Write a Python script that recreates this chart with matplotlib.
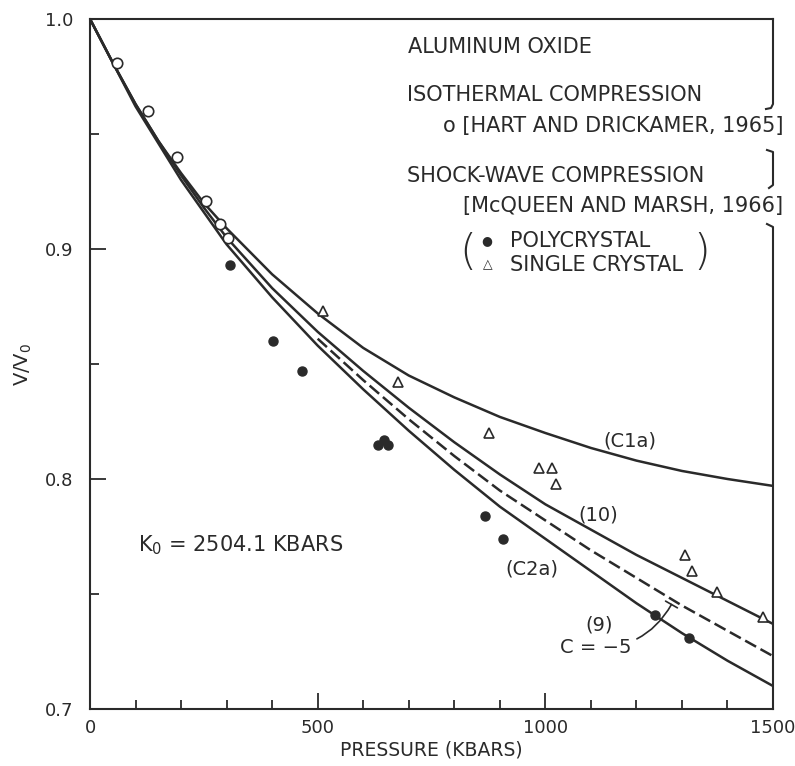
import numpy as np
import matplotlib.pyplot as plt
from matplotlib.lines import Line2D

# curves: V/V0 against pressure (kbar)
p_curve = [0, 50, 100, 150, 200, 250, 300, 400, 500, 600, 700, 800, 900, 1000,
           1100, 1200, 1300, 1400, 1500]
v_c1a = [1.000, 0.981, 0.963, 0.947, 0.933, 0.920, 0.909, 0.889, 0.872, 0.857,
         0.845, 0.8355, 0.827, 0.820, 0.8135, 0.808, 0.8035, 0.800, 0.797]
v_eq10 = [1.000, 0.981, 0.963, 0.947, 0.932, 0.918, 0.905, 0.883, 0.864, 0.847,
          0.831, 0.816, 0.802, 0.789, 0.778, 0.767, 0.757, 0.747, 0.737]
v_c2a = [1.000, 0.981, 0.962, 0.946, 0.930, 0.916, 0.902, 0.879, 0.858, 0.839,
         0.821, 0.804, 0.788, 0.774, 0.760, 0.746, 0.733, 0.721, 0.710]
p_eq9 = [500, 600, 700, 800, 900, 1000, 1100, 1200, 1300, 1400, 1500]
v_eq9 = [0.861, 0.843, 0.826, 0.810, 0.795, 0.782, 0.769, 0.757, 0.745, 0.734, 0.723]

# isothermal data (Hart and Drickamer, 1965)
p_hart = [59, 127, 190, 254, 286, 302]
v_hart = [0.981, 0.960, 0.940, 0.921, 0.911, 0.905]

# shock-wave data (McQueen and Marsh, 1966)
p_poly = [308, 401, 465, 633, 646, 655, 868, 908, 1241, 1315]
v_poly = [0.893, 0.860, 0.847, 0.815, 0.817, 0.815, 0.784, 0.774, 0.741, 0.731]
p_single = [511, 676, 876, 985, 1015, 1023, 1307, 1322, 1378, 1479]
v_single = [0.873, 0.842, 0.820, 0.805, 0.805, 0.798, 0.767, 0.760, 0.751, 0.740]

x_major = [0, 500, 1000, 1500]
x_major_labels = ["0", "500", "1000", "1500"]
y_major = [0.7, 0.8, 0.9, 1.0]
y_major_labels = ["0.7", "0.8", "0.9", "1.0"]

plt.rcParams["font.family"] = "DejaVu Sans"
INK = "#2a2a2a"

fig = plt.figure(figsize=(7.95, 7.66), dpi=100)
ax = fig.add_axes([90 / 795, 57 / 766, 683 / 795, 690 / 766])

lw = 1.8
ax.plot(p_curve, v_c1a, color=INK, lw=lw)
ax.plot(p_curve, v_eq10, color=INK, lw=lw)
ax.plot(p_curve, v_c2a, color=INK, lw=lw)
ax.plot(p_eq9, v_eq9, color=INK, lw=lw, linestyle=(0, (5, 2)))

ax.plot(p_hart, v_hart, "o", ms=7.5, mfc="white", mec=INK, mew=1.2, zorder=5)
ax.plot(p_poly, v_poly, "o", ms=6.5, mfc=INK, mec=INK, zorder=5)
ax.plot(p_single, v_single, "^", ms=7, mfc="white", mec=INK, mew=1.2, zorder=5)

ax.set_xlim(0, 1500)
ax.set_ylim(0.7, 1.0)
ax.set_xticks(x_major)
ax.set_xticklabels(x_major_labels)
ax.set_xticks(np.arange(0, 1501, 100), minor=True)
ax.set_yticks(y_major)
ax.set_yticklabels(y_major_labels)
ax.set_yticks([0.75, 0.85, 0.95], minor=True)
ax.tick_params(which="both", direction="in", top=False, right=False,
               width=1.3, color=INK, labelcolor=INK, labelsize=13)
ax.tick_params(which="major", length=11.5)
ax.tick_params(which="minor", length=6.5)
ax.tick_params(axis="y", pad=12)
ax.tick_params(axis="x", pad=7)

for side in ["left", "top", "bottom"]:
    ax.spines[side].set_linewidth(1.5)
    ax.spines[side].set_color(INK)
ax.spines["right"].set_visible(False)

# broken right frame with the little brace hooks
def px(x, y):
    return (x - 90) / 683, (709 - y) / 690

for seg in ([(773, 19), (773, 104), (771, 108), (766, 109)],
            [(767, 150), (773, 152), (773, 185), (769, 188)],
            [(767, 224), (773, 227), (773, 709)]):
    xs, ys = zip(*[px(*p) for p in seg])
    ax.add_line(Line2D(xs, ys, transform=ax.transAxes, color=INK, lw=1.5,
                       clip_on=False))

ax.set_xlabel("PRESSURE (KBARS)", fontsize=13.5, color=INK, labelpad=3)
ax.set_ylabel("V/V$_0$", fontsize=14, color=INK, labelpad=8)

fs = 15
ax.text(698, 0.9878, "ALUMINUM OXIDE", fontsize=fs, color=INK, va="center")
ax.text(696, 0.967, "ISOTHERMAL COMPRESSION", fontsize=fs, color=INK, va="center")
ax.text(775, 0.9535, "o [HART AND DRICKAMER, 1965]", fontsize=fs, color=INK,
        va="center", clip_on=False)
ax.text(696, 0.9317, "SHOCK-WAVE COMPRESSION", fontsize=fs, color=INK, va="center")
ax.text(819, 0.9187, "[McQUEEN AND MARSH, 1966]", fontsize=fs, color=INK,
        va="center", clip_on=False)
ax.text(830, 0.8985, "(", fontsize=31, color=INK, ha="center", va="center",
        fontweight="light")
ax.text(1344, 0.8985, ")", fontsize=31, color=INK, ha="center", va="center",
        fontweight="light")
ax.text(872, 0.9035, "\u25CF", fontsize=9, color=INK, ha="center", va="center")
ax.text(873, 0.8930, "\u25B3", fontsize=9, color=INK, ha="center", va="center")
ax.text(922, 0.9035, "POLYCRYSTAL", fontsize=fs, color=INK, va="center")
ax.text(922, 0.8930, "SINGLE CRYSTAL", fontsize=fs, color=INK, va="center")

ax.text(105, 0.771, "K$_0$ = 2504.1 KBARS", fontsize=fs, color=INK, va="center")

ax.text(1186, 0.8167, "(C1a)", fontsize=14, color=INK, ha="center", va="center")
ax.text(1116, 0.7845, "(10)", fontsize=14, color=INK, ha="center", va="center")
ax.text(971, 0.761, "(C2a)", fontsize=14, color=INK, ha="center", va="center")
ax.text(1118, 0.7366, "(9)", fontsize=14, color=INK, ha="center", va="center")
ax.annotate("C = \u22125", xy=(1280, 0.7465), xytext=(1111, 0.7266),
            fontsize=14, color=INK, ha="center", va="center",
            arrowprops=dict(arrowstyle="-[, widthB=0.35, lengthB=0",
                            connectionstyle="arc3,rad=0.3", color=INK, lw=1.2))

fig.savefig("out.png", dpi=100)
